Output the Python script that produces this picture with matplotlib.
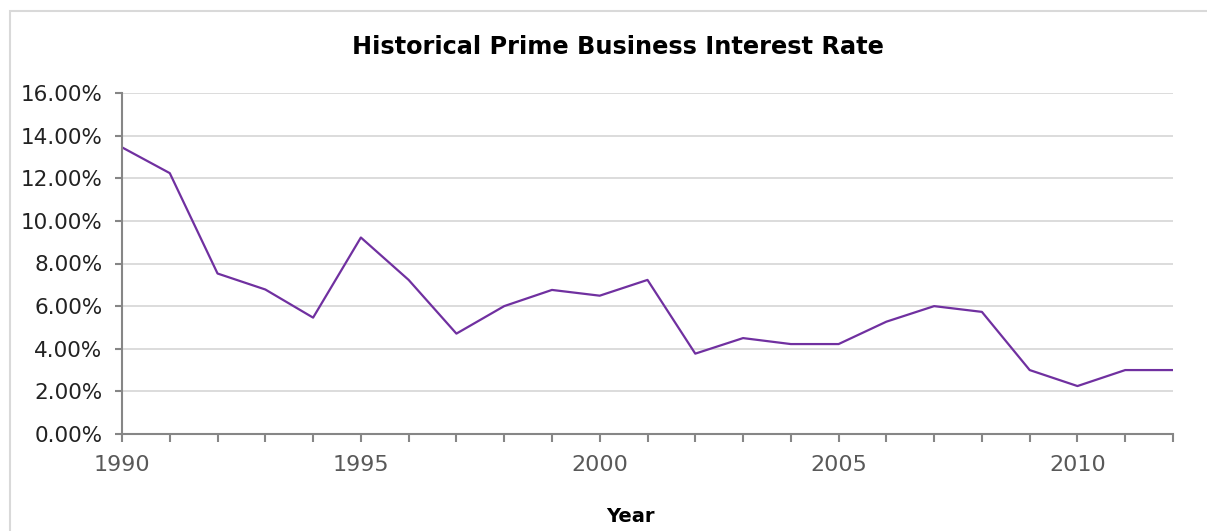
import numpy as np
import matplotlib
matplotlib.use("Agg")
from matplotlib import pyplot as plt
from matplotlib.patches import Rectangle
from matplotlib.ticker import FuncFormatter, MultipleLocator

years = list(range(1990, 2013))
prime_rate = [13.45, 12.24, 7.53, 6.78, 5.46, 9.22, 7.23, 4.71, 6.00, 6.76,
              6.49, 7.23, 3.77, 4.50, 4.22, 4.22, 5.27, 6.00, 5.73, 3.00,
              2.25, 3.00, 3.00]
title = "Historical Prime Business Interest Rate"
x_label = "Year"

plt.rcParams["font.family"] = ["DejaVu Sans"]

W, H = 1207, 531
fig = plt.figure(figsize=(W / 100, H / 100), dpi=100)
ax = fig.add_axes([122 / W, 1 - 434 / H, (1173 - 122) / W, (434 - 93) / H])

# light frame round the chart area, running off the right and bottom edges
fig.patches.append(Rectangle((9.5 / W, -0.05), 1.1, 1 - 11 / H + 0.05,
                             transform=fig.transFigure, fill=False,
                             edgecolor="#d9d9d9", linewidth=1.5))

ax.plot(years, prime_rate, color="#7030a0", linewidth=1.6)

ax.set_xlim(1990, 2012)
ax.set_ylim(0, 16)
ax.xaxis.set_major_locator(MultipleLocator(5))
ax.xaxis.set_minor_locator(MultipleLocator(1))
ax.yaxis.set_major_locator(MultipleLocator(2))
ax.yaxis.set_major_formatter(FuncFormatter(lambda v, p: f"{v:.2f}%"))

ax.grid(axis="y", color="#d9d9d9", linewidth=1.3)
ax.set_axisbelow(True)
for side in ["top", "right"]:
    ax.spines[side].set_visible(False)
for side in ["left", "bottom"]:
    ax.spines[side].set_color("#868686")
    ax.spines[side].set_linewidth(1.5)

ax.tick_params(axis="x", which="both", direction="out", length=6, width=1.5,
               color="#868686", labelcolor="#595959", labelsize=16, pad=9)
ax.tick_params(axis="y", direction="out", length=5, width=1.5,
               color="#868686", labelcolor="#222222", labelsize=15.5, pad=9)

fig.text(618 / W, 1 - 47 / H, title, fontsize=17.3, fontweight="bold",
         ha="center", va="center")
fig.text(630 / W, 1 - 517 / H, x_label, fontsize=14, fontweight="bold",
         ha="center", va="center")

fig.savefig("out.png", dpi=100)
